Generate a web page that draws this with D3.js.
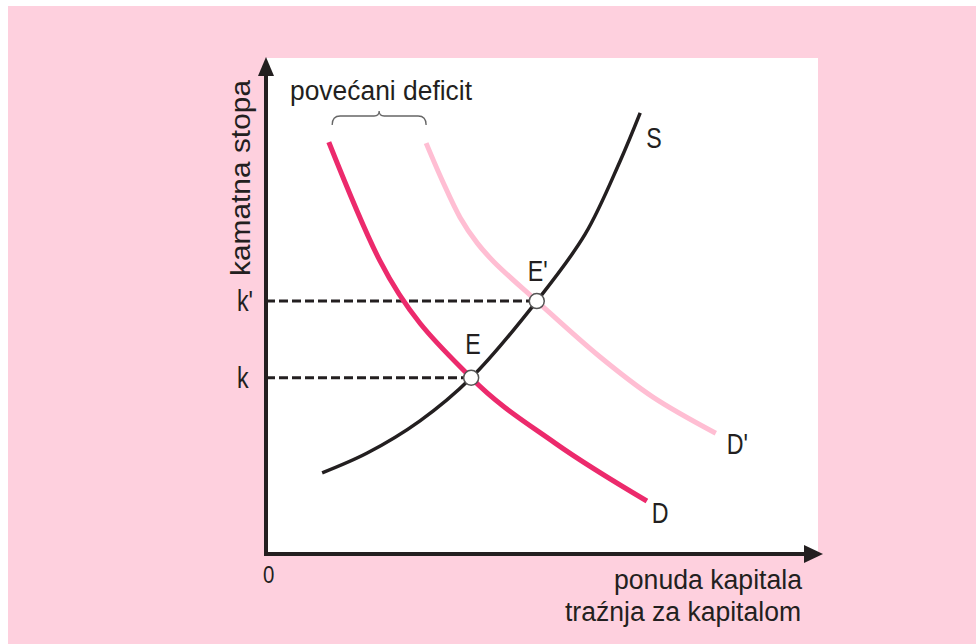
<!DOCTYPE html>
<html>
<head>
<meta charset="utf-8">
<script src="https://cdn.jsdelivr.net/npm/d3@7"></script>
<style>
  html, body { margin: 0; padding: 0; background: #ffffff; }
  svg { display: block; }
  text { font-family: "Liberation Sans", Arial, sans-serif; fill: #231f20; }
</style>
</head>
<body>
<script>
// ---- data (x: quantity of capital 0..100, y: interest rate 0..100) ----
const demandD = [
  [11.3, 83.2], [20.5, 59.2], [36.9, 35.6], [52.0, 22.4], [68.5, 10.7]
];
const demandD2 = [
  [28.8, 83.0], [31.8, 75.2], [34.9, 68.0], [38.0, 62.8], [41.0, 59.0],
  [48.7, 51.1], [60.1, 39.8], [69.6, 31.7], [80.9, 24.4]
];
const supplyS = [
  [10.1, 16.4], [18.2, 20.4], [27.7, 26.9], [36.9, 35.6],
  [48.7, 51.1], [57.4, 64.6], [63.7, 79.4], [67.3, 89.1]
];
const equilibria = [
  { name: "E",  rate: "k",  x: 36.9, y: 35.6 },
  { name: "E'", rate: "k'", x: 48.7, y: 51.1 }
];
const curveLabels = [
  { text: "S",  x: 67.3, y: 89.1 },
  { text: "D'", x: 80.9, y: 24.4 },
  { text: "D",  x: 68.5, y: 10.7 }
];
const deficitRange = [11.9, 28.8];   // brace over shift of demand
const axisTitles = { y: "kamatna stopa", x1: "ponuda kapitala", x2: "traźnja za kapitalom" };
const braceLabel = "povećani deficit";

// ---- layout ----
const W = 976, H = 644;
const svg = d3.select("body").append("svg").attr("width", W).attr("height", H);

svg.append("rect").attr("x", 8).attr("y", 6).attr("width", W - 8).attr("height", H - 6).attr("fill", "#fed0de");

const x = d3.scaleLinear().domain([0, 100]).range([266, 822]);
const y = d3.scaleLinear().domain([0, 100]).range([554, 59]);

// white plot area
svg.append("rect").attr("x", x(0)).attr("y", 58).attr("width", 818 - x(0)).attr("height", y(0) - 58).attr("fill", "#ffffff");

const dark = "#231f20";

// dashed guide lines
equilibria.forEach(e => {
  svg.append("line")
    .attr("x1", x(0)).attr("x2", x(e.x))
    .attr("y1", y(e.y)).attr("y2", y(e.y))
    .attr("stroke", dark).attr("stroke-width", 3)
    .attr("stroke-dasharray", "9,4");
});

const lineM = d3.line().x(d => x(d[0])).y(d => y(d[1])).curve(d3.curveMonotoneX);
const lineC = d3.line().x(d => x(d[0])).y(d => y(d[1])).curve(d3.curveCatmullRom.alpha(0.5));

svg.append("path").datum(supplyS).attr("d", lineC)
  .attr("fill", "none").attr("stroke", dark).attr("stroke-width", 3.5).attr("stroke-linecap", "butt");
svg.append("path").datum(demandD2).attr("d", lineC)
  .attr("fill", "none").attr("stroke", "#ffbed3").attr("stroke-width", 5).attr("stroke-linecap", "butt");
svg.append("path").datum(demandD).attr("d", lineM)
  .attr("fill", "none").attr("stroke", "#ec2a6c").attr("stroke-width", 5).attr("stroke-linecap", "butt");

// equilibrium circles
svg.selectAll("circle.eq").data(equilibria).enter().append("circle")
  .attr("cx", d => x(d.x)).attr("cy", d => y(d.y)).attr("r", 7.5)
  .attr("fill", "#ffffff").attr("stroke", "#555555").attr("stroke-width", 1.5);

// axes
svg.append("line").attr("x1", x(0)).attr("x2", x(0)).attr("y1", y(0) + 1.5).attr("y2", 70)
  .attr("stroke", dark).attr("stroke-width", 4);
svg.append("line").attr("x1", x(0) - 2).attr("x2", 810).attr("y1", y(0)).attr("y2", y(0))
  .attr("stroke", dark).attr("stroke-width", 4);
svg.append("path").attr("d", `M${x(0)},57 L${x(0) - 8},76 L${x(0) + 8},76 Z`).attr("fill", dark);
svg.append("path").attr("d", `M823,${y(0)} L804,${y(0) - 9} L804,${y(0) + 9} Z`).attr("fill", dark);

// texts
function label(t, px, py, opts = {}) {
  return svg.append("text").attr("font-size", opts.size || 29)
    .attr("transform", `translate(${px},${py}) scale(${opts.sx || 0.8},1)`)
    .attr("text-anchor", opts.anchor || "start").text(t);
}

// equilibrium labels
label("E", x(equilibria[0].x) - 6, y(equilibria[0].y) - 24);
label("E'", x(equilibria[1].x) - 9, y(equilibria[1].y) - 20);
// rate labels
equilibria.forEach(e => label(e.rate, 237, y(e.y) + 10));
// curve labels
label(curveLabels[0].text, x(curveLabels[0].x) + 6, y(curveLabels[0].y) + 35);
label(curveLabels[1].text, x(curveLabels[1].x) + 11, y(curveLabels[1].y) + 21);
label(curveLabels[2].text, x(curveLabels[2].x) + 5, y(curveLabels[2].y) + 22);
// origin
label("0", 263, 583, { size: 24, sx: 0.85 });

// axis titles
svg.append("text").attr("font-size", 27).attr("text-anchor", "middle")
  .attr("transform", `translate(250,178) rotate(-90)`)
  .attr("textLength", 196).attr("lengthAdjust", "spacingAndGlyphs").text(axisTitles.y);
svg.append("text").attr("font-size", 27).attr("x", 614).attr("y", 589)
  .attr("textLength", 188).attr("lengthAdjust", "spacingAndGlyphs").text(axisTitles.x1);
svg.append("text").attr("font-size", 27).attr("x", 565).attr("y", 621)
  .attr("textLength", 236).attr("lengthAdjust", "spacingAndGlyphs").text(axisTitles.x2);

// brace
const bx0 = x(deficitRange[0]), bx1 = x(deficitRange[1]);
const bm = (bx0 + bx1) / 2, by = 116;
svg.append("path")
  .attr("d", `M${bx0},125 Q${bx0},${by} ${bx0 + 8},${by} L${bm - 5},${by} Q${bm},${by} ${bm},${by - 5} Q${bm},${by} ${bm + 5},${by} L${bx1 - 8},${by} Q${bx1},${by} ${bx1},125`)
  .attr("fill", "none").attr("stroke", "#666666").attr("stroke-width", 1.3);
svg.append("text").attr("font-size", 27).attr("x", 290).attr("y", 100)
  .attr("textLength", 182).attr("lengthAdjust", "spacingAndGlyphs").text(braceLabel);
</script>
</body>
</html>
